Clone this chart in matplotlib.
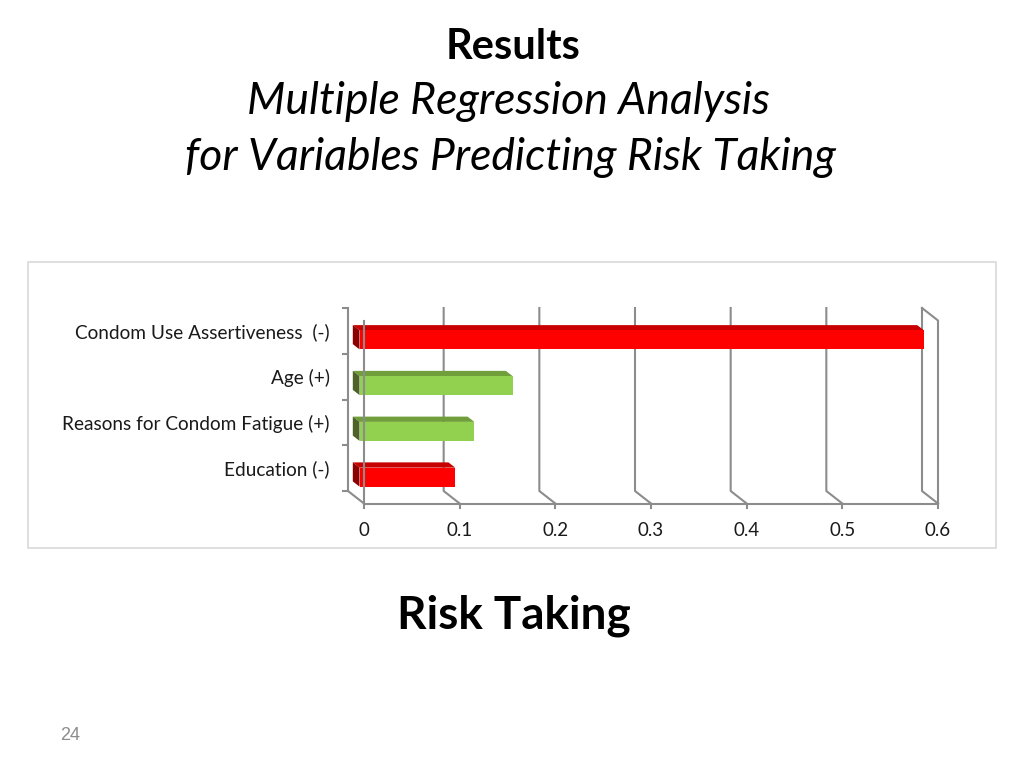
import numpy as np
import matplotlib
matplotlib.use("Agg")
import matplotlib.pyplot as plt
from matplotlib.patches import Polygon, Rectangle

plt.rcParams['font.family'] = ['Lato', 'DejaVu Sans']

# data
labels = ["Condom Use Assertiveness  (-)", "Age (+)",
          "Reasons for Condom Fatigue (+)", "Education (-)"]
values = [0.59, 0.16, 0.12, 0.10]
signs = ["-", "+", "+", "-"]
xticks = [0, 0.1, 0.2, 0.3, 0.4, 0.5, 0.6]
xticklabels = ["0", "0.1", "0.2", "0.3", "0.4", "0.5", "0.6"]

# colours (front, top, side) for negative / positive predictors
face_cols = {"-": ("#FF0000", "#C80000", "#8B0000"),
             "+": ("#92D050", "#6F9E3A", "#4F6228")}
grid_col = "#8C8C8C"

W, H = 1024, 768
fig = plt.figure(figsize=(W / 100, H / 100), dpi=100)

# back wall of the 3d plot: x 348..922 px, y 308..491 px
left, right, top, bottom = 348, 922, 308, 491
ax = fig.add_axes([left / W, 1 - bottom / H, (right - left) / W, (bottom - top) / H])
xmax = xticks[-1]
n = len(labels)
ax.set_xlim(0, xmax)
ax.set_ylim(n - 0.5, -0.5)

px_x = xmax / (right - left)
px_y = n / (bottom - top)
DX, DY = 16 * px_x, 12.5 * px_y  # depth offset back wall -> front plane

# back wall gridlines + floor diagonals
for v in xticks[1:]:
    ax.plot([v, v, v + DX], [-0.5, n - 0.5, n - 0.5 + DY], color=grid_col,
            lw=1.5, zorder=1, clip_on=False)
# floor left edge
ax.plot([0, DX], [n - 0.5, n - 0.5 + DY], color=grid_col, lw=1.5, clip_on=False, zorder=1)
# right wall top edge and front vertical
ax.plot([xmax, xmax + DX, xmax + DX], [-0.5, -0.5 + DY, n - 0.5 + DY],
        color=grid_col, lw=1.5, clip_on=False, zorder=1)

# bars
h = 19 * px_y
bf, ff = 0.30, 0.72
for i, (v, s) in enumerate(zip(values, signs)):
    front, topc, side = face_cols[s]
    bx, by = bf * DX, bf * DY
    fx, fy = ff * DX, ff * DY
    y0, y1 = i - h / 2, i + h / 2
    ax.add_patch(Polygon([(bx, y0 + by), (v + bx, y0 + by), (v + fx, y0 + fy), (fx, y0 + fy)],
                         closed=True, facecolor=topc, edgecolor="none", zorder=2, clip_on=False))
    ax.add_patch(Polygon([(bx, y0 + by), (fx, y0 + fy), (fx, y1 + fy), (bx, y1 + by)],
                         closed=True, facecolor=side, edgecolor="none", zorder=2, clip_on=False))
    ax.add_patch(Polygon([(fx, y0 + fy), (v + fx, y0 + fy), (v + fx, y1 + fy), (fx, y1 + fy)],
                         closed=True, facecolor=front, edgecolor="none", zorder=2, clip_on=False))

# front plane: left vertical, axis line, ticks, labels
ax.plot([DX, DX], [-0.5 + DY, n - 0.5 + DY], color=grid_col, lw=1.5, clip_on=False, zorder=3)
ax.plot([DX, xmax + DX], [n - 0.5 + DY] * 2, color=grid_col, lw=1.5, clip_on=False, zorder=3)
for v, t in zip(xticks, xticklabels):
    ax.plot([v + DX, v + DX], [n - 0.5 + DY, n - 0.5 + DY + 4.5 * px_y], color=grid_col,
            lw=1.5, clip_on=False, zorder=3)
    ax.text(v + DX, n - 0.5 + DY + 27 * px_y, t, ha="center", va="center",
            fontsize=13.5, color="#1a1a1a")

# left axis with category labels
for sp in ["top", "right", "bottom"]:
    ax.spines[sp].set_visible(False)
ax.spines["left"].set_color(grid_col)
ax.spines["left"].set_linewidth(1.5)
ax.set_facecolor("none")
ax.set_xticks([])
ax.set_yticks(range(n))
ax.set_yticklabels(labels, fontsize=13.7, color="#1a1a1a")
ax.set_yticks(np.arange(n + 1) - 0.5, minor=True)
ax.tick_params(axis="y", which="major", length=0, pad=13)
ax.tick_params(axis="y", which="minor", length=4, width=1.5, color=grid_col)

# chart frame
fig.patches.append(Rectangle((28 / W, 1 - 548 / H), 968 / W, 286 / H, transform=fig.transFigure,
                             fill=False, edgecolor="#D9D9D9", lw=1.2))

# slide texts
fig.text(513 / W, 1 - 47 / H, "Results", ha="center", va="center", fontsize=30, fontweight="bold")
fig.text(508 / W, 1 - 102 / H, "Multiple Regression Analysis", ha="center", va="center",
         fontsize=32, style="italic")
fig.text(510 / W, 1 - 158 / H, "for Variables Predicting Risk Taking", ha="center", va="center",
         fontsize=32, style="italic")
fig.text(514 / W, 1 - 616 / H, "Risk Taking", ha="center", va="center", fontsize=33, fontweight="bold")
fig.text(70 / W, 1 - 735 / H, "24", ha="center", va="center", fontsize=13, color="#8C8C8C",
         family=["Liberation Sans", "DejaVu Sans"])

fig.savefig("out.png", dpi=100)
